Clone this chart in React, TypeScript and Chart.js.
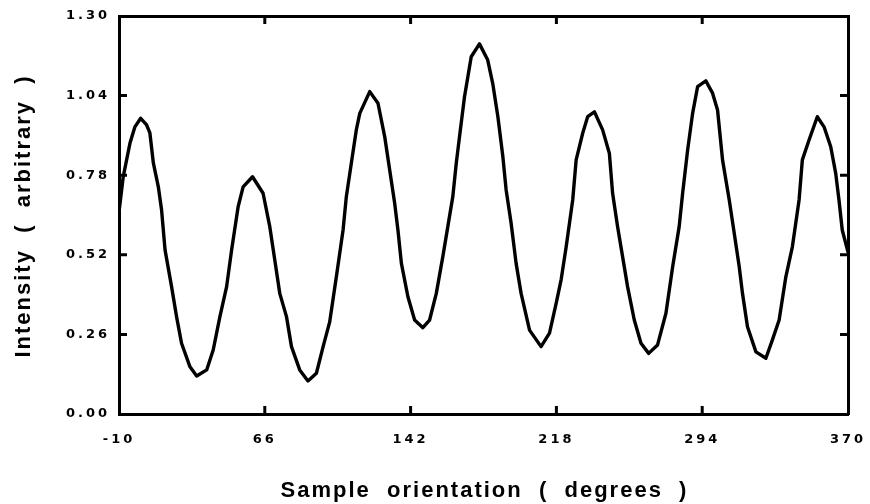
import { useEffect, useRef } from "react";
import { Chart, registerables } from "chart.js";

Chart.register(...registerables);

const orientation = [
  -10, -7.8, -4.3, -1.7, 1.3, 4.4, 6.1, 7.9, 10.5, 12.2, 14.0, 17.4, 20.0, 22.6, 27.0, 30.5,
  35.7, 39.1, 42.6, 46.1, 48.7, 52.1, 54.7, 59.6, 65.1, 68.6, 71.2, 73.8, 77.3, 79.9, 84.2,
  88.5, 92.9, 96.4, 99.8, 103.3, 106.8, 108.5, 111.1, 113.7, 115.5, 120.7, 125.0, 128.5,
  131.1, 133.7, 135.4, 137.2, 140.6, 144.1, 148.4, 151.9, 155.4, 158.8, 161.4, 164.0,
  165.8, 167.5, 170.1, 173.6, 177.9, 182.2, 184.8, 187.5, 190.1, 191.8, 194.4, 197.0,
  199.6, 204.0, 210.0, 214.4, 217.9, 220.5, 223.1, 226.5, 228.3, 231.7, 234.3, 237.8,
  242.1, 245.6, 247.3, 249.9, 252.5, 255.1, 258.6, 262.1, 266.1, 270.7, 275.1, 278.6,
  282.0, 283.8, 286.4, 289.0, 291.6, 295.9, 299.4, 302.0, 304.6, 308.1, 310.7, 313.3,
  315.0, 317.6, 322.0, 327.2, 330.6, 334.1, 337.6, 341.0, 344.5, 346.2, 349.7, 354.0,
  357.5, 361.0, 363.6, 365.3, 367.0, 370,
];

const intensity = [
  0.66, 0.775, 0.884, 0.938, 0.966, 0.944, 0.918, 0.82, 0.742, 0.666, 0.536, 0.416, 0.318,
  0.231, 0.154, 0.124, 0.144, 0.209, 0.318, 0.416, 0.536, 0.677, 0.742, 0.775, 0.721,
  0.612, 0.503, 0.394, 0.318, 0.22, 0.144, 0.108, 0.133, 0.22, 0.3, 0.448, 0.601, 0.71,
  0.819, 0.928, 0.982, 1.053, 1.015, 0.906, 0.797, 0.688, 0.601, 0.492, 0.383, 0.307,
  0.282, 0.307, 0.394, 0.514, 0.612, 0.71, 0.819, 0.906, 1.036, 1.167, 1.209, 1.156, 1.08,
  0.971, 0.84, 0.732, 0.623, 0.492, 0.394, 0.274, 0.22, 0.264, 0.362, 0.44, 0.546, 0.699,
  0.83, 0.917, 0.971, 0.987, 0.928, 0.852, 0.721, 0.612, 0.514, 0.416, 0.307, 0.231,
  0.198, 0.225, 0.329, 0.481, 0.612, 0.721, 0.862, 0.982, 1.069, 1.088, 1.048, 0.993,
  0.83, 0.699, 0.59, 0.481, 0.394, 0.285, 0.203, 0.182, 0.242, 0.307, 0.448, 0.546, 0.699,
  0.83, 0.895, 0.971, 0.938, 0.873, 0.786, 0.699, 0.601, 0.529,
];

const xTicks = [-10, 66, 142, 218, 294, 370];
const yTicks = [0, 0.26, 0.52, 0.78, 1.04, 1.3];
const xTitle = "Sample  orientation  (  degrees  )";
const yTitle = "Intensity  (  arbitrary  )";

export default function App() {
  const ref = useRef<HTMLCanvasElement>(null);

  useEffect(() => {
    document.body.style.margin = "0";
    const canvas = ref.current;
    if (!canvas) return;

    const tickFont = { family: "'DejaVu Sans', sans-serif", size: 13, weight: "bold" as const };

    const deco = {
      id: "deco",
      beforeDraw(chart: any) {
        chart.ctx.letterSpacing = "3px";
      },
      afterDraw(chart: any) {
        const ctx = chart.ctx;
        const a = chart.chartArea;
        const xs = chart.scales.x;
        const ys = chart.scales.y;
        const L = 8;
        ctx.save();
        ctx.strokeStyle = "#000";
        ctx.lineWidth = 3;
        ctx.beginPath();
        xTicks.forEach((v) => {
          const p = xs.getPixelForValue(v);
          if (p > a.left + 3 && p < a.right - 3) {
            ctx.moveTo(p, a.bottom);
            ctx.lineTo(p, a.bottom - L);
            ctx.moveTo(p, a.top);
            ctx.lineTo(p, a.top + L);
          }
        });
        yTicks.forEach((v) => {
          const p = ys.getPixelForValue(v);
          if (p > a.top + 3 && p < a.bottom - 3) {
            ctx.moveTo(a.left, p);
            ctx.lineTo(a.left + L, p);
            ctx.moveTo(a.right, p);
            ctx.lineTo(a.right - L, p);
          }
        });
        ctx.stroke();

        ctx.fillStyle = "#000";
        ctx.font = "bold 22px 'Liberation Sans', Arial, sans-serif";
        ctx.letterSpacing = "2px";
        ctx.textAlign = "center";
        ctx.textBaseline = "alphabetic";
        ctx.fillText(xTitle, (a.left + a.right) / 2 + 1, a.bottom + 83);
        ctx.translate(30, (a.top + a.bottom) / 2 + 1);
        ctx.rotate(-Math.PI / 2);
        ctx.fillText(yTitle, 0, 0);
        ctx.restore();
      },
    };

    const chart = new Chart(canvas, {
      type: "line",
      data: {
        datasets: [
          {
            data: orientation.map((x, i) => ({ x, y: intensity[i] })),
            borderColor: "#000",
            borderWidth: 3.4,
            pointRadius: 0,
            tension: 0,
            fill: false,
            borderJoinStyle: "round",
            borderCapStyle: "round",
          },
        ],
      },
      options: {
        animation: false,
        responsive: false,
        devicePixelRatio: 1,
        layout: { padding: { left: 0, top: 16, right: 22, bottom: 0 } },
        plugins: { legend: { display: false }, tooltip: { enabled: false } },
        scales: {
          x: {
            type: "linear",
            position: "bottom",
            min: -10,
            max: 370,
            afterBuildTicks: (s: any) => {
              s.ticks = xTicks.map((v) => ({ value: v }));
            },
            afterFit: (s: any) => {
              s.height = 90;
              s.paddingLeft = 0;
              s.paddingRight = 0;
            },
            ticks: {
              font: tickFont,
              color: "#000",
              padding: 18,
              maxRotation: 0,
              autoSkip: false,
              callback: (v: any) => String(v),
            },
            grid: { display: true, drawOnChartArea: false, drawTicks: false },
            border: { display: true, color: "#000", width: 3 },
          },
          x2: {
            type: "linear",
            axis: "x",
            position: "top",
            min: -10,
            max: 370,
            afterFit: (s: any) => {
              s.height = 0;
              s.paddingLeft = 0;
              s.paddingRight = 0;
            },
            ticks: { display: false },
            grid: { display: true, drawOnChartArea: false, drawTicks: false },
            border: { display: true, color: "#000", width: 3 },
          },
          y: {
            type: "linear",
            position: "left",
            min: 0,
            max: 1.3,
            afterBuildTicks: (s: any) => {
              s.ticks = yTicks.map((v) => ({ value: v }));
            },
            afterFit: (s: any) => {
              s.width = 119;
              s.paddingTop = 0;
              s.paddingBottom = 0;
            },
            ticks: {
              font: tickFont,
              color: "#000",
              padding: 9,
              autoSkip: false,
              callback: (v: any) => Number(v).toFixed(2),
            },
            grid: { display: true, drawOnChartArea: false, drawTicks: false },
            border: { display: true, color: "#000", width: 3 },
          },
          y2: {
            type: "linear",
            axis: "y",
            position: "right",
            min: 0,
            max: 1.3,
            afterFit: (s: any) => {
              s.width = 0;
              s.paddingTop = 0;
              s.paddingBottom = 0;
            },
            ticks: { display: false },
            grid: { display: true, drawOnChartArea: false, drawTicks: false },
            border: { display: true, color: "#000", width: 3 },
          },
        },
      },
      plugins: [deco],
    } as any);

    return () => chart.destroy();
  }, []);

  return (
    <div style={{ width: 870, height: 504, background: "#fff" }}>
      <canvas ref={ref} width={870} height={504} style={{ display: "block" }} />
    </div>
  );
}
